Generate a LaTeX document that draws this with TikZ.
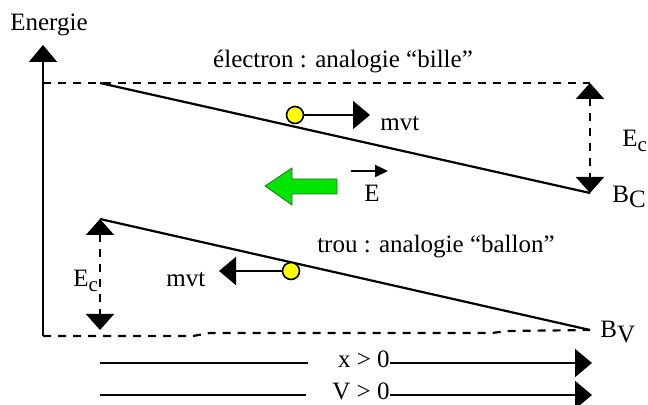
\documentclass[tikz,border=0pt]{standalone}
\usepackage{fontspec}
\setmainfont{Liberation Serif}
\usepackage{xcolor}
\usepackage{tikz}
\usetikzlibrary{arrows.meta,positioning,calc}
\definecolor{BallYellow}{HTML}{FFFF00}
\definecolor{FieldGreen}{HTML}{00E600}
\definecolor{FieldEdge}{HTML}{2F6B2F}

\begin{document}
\begin{tikzpicture}[x=0.5pt, y=-0.5pt,
    txt/.style={font=\fontsize{12.5}{15}\selectfont, inner sep=0pt},
    band/.style={line width=1.1pt},
    level/.style={line width=1.1pt, dash pattern=on 4pt off 3.5pt},
    bigtip/.style={-{Triangle[length=8.5pt,width=14pt]}, line width=1.1pt},
    bothtips/.style={{Triangle[length=8pt,width=14pt]}-{Triangle[length=8pt,width=14pt]}},
    ball/.style={circle, draw, line width=0.8pt, fill=BallYellow, minimum size=8.5pt, inner sep=0pt},
    vectip/.style={-{Triangle[length=6.5pt,width=6pt]}, line width=1.1pt}
  ]
    \useasboundingbox (0,0) rectangle (648,405);
    % points of the band diagram
    \coordinate (origin) at (43,336);
    \coordinate (axistop) at (43,45);
    \coordinate (cbL) at (100,83);
    \coordinate (cbR) at (590,193);
    \coordinate (vbL) at (100,219);
    \coordinate (vbR) at (590,330);
    % energy axis and levels
    \draw[bigtip] (origin) -- (axistop);
    \node[txt, anchor=base] (energie) at (49,31) {Energie};
    \draw[level] (origin |- cbL) -- (cbR |- cbL);
    \draw[level] (origin) -- (193,336) -- (210,333) -- (492,333) -- (507,331) -- (vbR);
    % bands
    \draw[band] (cbL) -- (cbR);
    \draw[band] (vbL) -- (vbR);
    \node[txt, anchor=base west] (bc) at (612,203) {B\raisebox{-2.5pt}{C}};
    \node[txt, anchor=base west] (bv) at (600,338) {B\raisebox{-2.5pt}{V}};
    % kinetic energies
    \draw[level, bothtips] (cbR |- cbL) -- (cbR);
    \node[txt, anchor=base west] (ecR) at (622,147) {E\raisebox{-2.5pt}{\fontsize{10.5}{13}\selectfont c}};
    \draw[level, bothtips] (vbL) -- (vbL |- vbR);
    \node[txt, anchor=base west] (ecL) at (73,287) {E\raisebox{-2.5pt}{\fontsize{10.5}{13}\selectfont c}};
    % electron
    \node[txt, anchor=base] (eltitle) at (343,68) {électron : analogie “bille”};
    \node[ball] (electron) at (295,115) {};
    \coordinate (emove) at (370,115);
    \draw[bigtip] (electron) -- (emove);
    \node[txt, anchor=base west] (emvt) at (380,131) {mvt};
    % hole
    \node[txt, anchor=base] (hotitle) at (436,253) {trou : analogie “ballon”};
    \node[ball] (hole) at (291,271) {};
    \coordinate (hmove) at (219,271);
    \draw[bigtip] (hole) -- (hmove);
    \node[txt, anchor=base west] (hmvt) at (166,287) {mvt};
    % field
    \draw[fill=FieldGreen, draw=FieldEdge, line width=0.4pt]
      (265,186) -- (292,168) -- (292,179) -- (337,179) -- (337,194) -- (292,194) -- (292,205) -- cycle;
    \coordinate (vecL) at (351,171);
    \coordinate (vecR) at (388,171);
    \draw[vectip] (vecL) -- (vecR);
    \node[txt, anchor=base] (efield) at (372,202) {E};
    % x and V directions
    \coordinate (xL) at (100,363);
    \coordinate (xR) at (592,363);
    \node[txt, anchor=base east] (xpos) at (390,368) {x > 0};
    \draw[band] (xL) -- (308,363);
    \draw[bigtip] (xpos.east |- xL) -- (xR);
    \coordinate (vL) at (100,395);
    \coordinate (vR) at (592,395);
    \node[txt, anchor=base east] (vpos) at (390,400) {V > 0};
    \draw[band] (vL) -- (306,395);
    \draw[bigtip] (vpos.east |- vL) -- (vR);
  \end{tikzpicture}
\end{document}
